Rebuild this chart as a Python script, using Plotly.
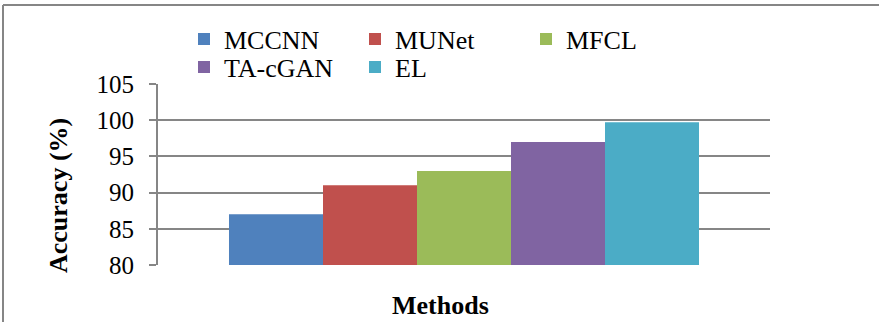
import plotly.graph_objects as go

methods = ["MCCNN", "MUNet", "MFCL", "TA-cGAN", "EL"]
accuracy = [87, 91, 93, 97, 99.7]
colors = ["#4F81BD", "#C0504D", "#9BBB59", "#8064A2", "#4BACC6"]
y_ticks = [80, 85, 90, 95, 100, 105]

FONT = "Liberation Serif"
GRAY = "#868686"

W, H = 879, 322
ML, MR, MT, MB = 158, 109, 84, 57
pw = W - ML - MR
ph = H - MT - MB


def px_x(x):
    return (x - ML) / pw


def px_y(y):
    return (H - MB - y) / ph


fig = go.Figure()
for i, (m, v, c) in enumerate(zip(methods, accuracy, colors)):
    fig.add_trace(go.Bar(
        x=[""], y=[v], name=m, marker=dict(color=c, line=dict(width=0)),
        legend="legend" if i < 3 else "legend2",
    ))

legend_common = dict(
    orientation="h", xref="container", yref="container",
    xanchor="left", yanchor="middle",
    font=dict(family=FONT, size=26, color="#000000"),
    entrywidth=126, entrywidthmode="pixels",
    bgcolor="rgba(0,0,0,0)", borderwidth=0,
    itemclick=False, itemdoubleclick=False,
)

fig.update_layout(
    width=W, height=H,
    margin=dict(l=ML, r=MR, t=MT, b=MB, autoexpand=False),
    paper_bgcolor="white", plot_bgcolor="white",
    barmode="group", bargap=0.232, bargroupgap=0,
    showlegend=True,
    legend=dict(**legend_common, x=184 / W, y=1 - 39 / H),
    legend2=dict(**legend_common, x=184 / W, y=1 - 67 / H),
    font=dict(family=FONT, size=25, color="#000000"),
    xaxis=dict(
        showticklabels=False, showgrid=False, zeroline=False,
        showline=False, ticks="",
    ),
    yaxis=dict(
        range=[80, 105], tickvals=y_ticks, ticktext=[str(t) for t in y_ticks],
        showgrid=True, gridcolor=GRAY, gridwidth=2,
        showline=True, linecolor=GRAY, linewidth=2,
        ticks="outside", ticklen=7, tickcolor=GRAY, tickwidth=2,
        ticklabelstandoff=10,
        tickfont=dict(family=FONT, size=25, color="#000000"),
        zeroline=False,
    ),
    annotations=[
        dict(text="<b>Accuracy (%)</b>", textangle=-90, xref="paper", yref="paper",
             x=px_x(58), xanchor="center", y=px_y(196), yanchor="middle",
             showarrow=False, font=dict(family=FONT, size=26, color="#000000")),
        dict(text="<b>Methods</b>", xref="paper", yref="paper",
             x=px_x(440), xanchor="center", y=px_y(305), yanchor="middle",
             showarrow=False, font=dict(family=FONT, size=26, color="#000000")),
    ],
    shapes=[
        dict(type="line", xref="paper", yref="paper", x0=px_x(3), x1=px_x(W),
             y0=px_y(5), y1=px_y(5), line=dict(color=GRAY, width=2)),
        dict(type="line", xref="paper", yref="paper", x0=px_x(3), x1=px_x(3),
             y0=px_y(5), y1=px_y(H), line=dict(color=GRAY, width=2)),
    ],
)

fig.write_html(
    "out.html",
    config={"displayModeBar": False},
    post_script="document.body.style.margin='0';document.body.style.overflow='hidden';",
)
